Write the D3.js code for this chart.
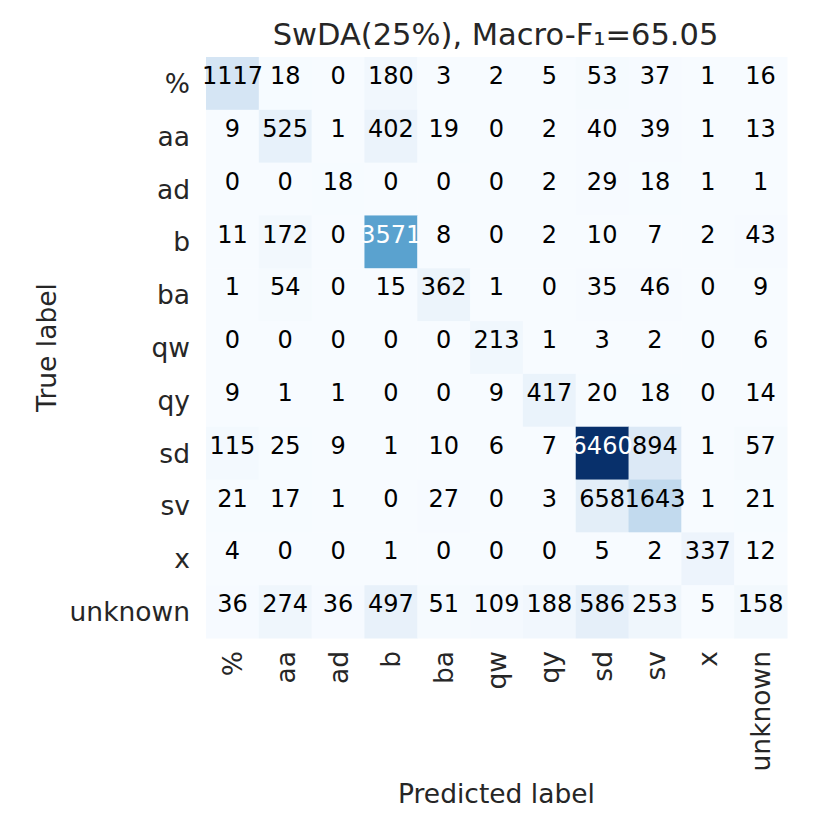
<!DOCTYPE html>
<html>
<head>
<meta charset="utf-8">
<script src="https://cdn.jsdelivr.net/npm/d3@7"></script>
<style>
  body { margin: 0; background: #fff; }
  text { font-family: 'DejaVu Sans', sans-serif; fill: #262626; }
</style>
</head>
<body>
<svg id="cm" width="830" height="830"></svg>
<script>
let labels = ['%', 'aa', 'ad', 'b', 'ba', 'qw', 'qy', 'sd', 'sv', 'x', 'unknown']

// rows = true label, columns = predicted label
let row_pct     = [1117, 18, 0, 180, 3, 2, 5, 53, 37, 1, 16]
let row_aa      = [9, 525, 1, 402, 19, 0, 2, 40, 39, 1, 13]
let row_ad      = [0, 0, 18, 0, 0, 0, 2, 29, 18, 1, 1]
let row_b       = [11, 172, 0, 3571, 8, 0, 2, 10, 7, 2, 43]
let row_ba      = [1, 54, 0, 15, 362, 1, 0, 35, 46, 0, 9]
let row_qw      = [0, 0, 0, 0, 0, 213, 1, 3, 2, 0, 6]
let row_qy      = [9, 1, 1, 0, 0, 9, 417, 20, 18, 0, 14]
let row_sd      = [115, 25, 9, 1, 10, 6, 7, 6460, 894, 1, 57]
let row_sv      = [21, 17, 1, 0, 27, 0, 3, 658, 1643, 1, 21]
let row_x       = [4, 0, 0, 1, 0, 0, 0, 5, 2, 337, 12]
let row_unknown = [36, 274, 36, 497, 51, 109, 188, 586, 253, 5, 158]

let matrix = [row_pct, row_aa, row_ad, row_b, row_ba, row_qw, row_qy, row_sd, row_sv, row_x, row_unknown]

let title = 'SwDA(25%), Macro-F\u2081=65.05'

let margin = ({ top: 57, right: 43, bottom: 192, left: 206 })
let width = 830 - margin.left - margin.right
let height = 830 - margin.top - margin.bottom

let svg = d3.select('#cm')
let g = svg.append('g').attr('transform', `translate(${margin.left},${margin.top})`)

let x = d3.scaleBand().domain(labels).range([0, width])
let y = d3.scaleBand().domain(labels).range([0, height])

let vmax = d3.max(matrix, r => d3.max(r))
let color = d3.scaleSequential(d3.interpolateBlues).domain([0, vmax])

// flatten to cells
let cells = []
matrix.forEach((r, i) => r.forEach((v, j) => cells.push({ t: labels[i], p: labels[j], v: v })))

function lum(c) {
	let rgb = d3.rgb(c)
	let f = ch => {
		ch = ch / 255
		return ch <= 0.03928 ? ch / 12.92 : Math.pow((ch + 0.055) / 1.055, 2.4)
	}
	return 0.2126 * f(rgb.r) + 0.7152 * f(rgb.g) + 0.0722 * f(rgb.b)
}

g.append('g')
	.selectAll('rect')
	.data(cells)
	.join('rect')
	.attr('x', d => x(d.p))
	.attr('y', d => y(d.t))
	.attr('width', x.bandwidth() + 0.5)
	.attr('height', y.bandwidth() + 0.5)
	.attr('fill', d => color(d.v))

// annotations sit a bit above the cell centre, like the original
g.append('g')
	.selectAll('text')
	.data(cells)
	.join('text')
	.attr('x', d => x(d.p) + x.bandwidth() / 2)
	.attr('y', d => y(d.t) + y.bandwidth() / 2)
	.attr('dy', '0.03em')
	.attr('text-anchor', 'middle')
	.style('font-size', '24px')
	.style('fill', d => lum(color(d.v)) < 0.408 ? '#fff' : '#000')
	.text(d => d.v)

// y tick labels
g.append('g')
	.selectAll('text')
	.data(labels)
	.join('text')
	.attr('x', -16)
	.attr('y', d => y(d) + y.bandwidth() / 2)
	.attr('dy', '0.36em')
	.attr('text-anchor', 'end')
	.style('font-size', '26.5px')
	.text(d => d)

// x tick labels, rotated
g.append('g')
	.selectAll('text')
	.data(labels)
	.join('text')
	.attr('transform', d => `translate(${x(d) + x.bandwidth() / 2},${height + 13}) rotate(-90)`)
	.attr('dy', '0.36em')
	.attr('text-anchor', 'end')
	.style('font-size', '26.5px')
	.text(d => d)

// axis titles
svg.append('text')
	.attr('x', margin.left + width / 2)
	.attr('y', 803)
	.attr('text-anchor', 'middle')
	.style('font-size', '26.5px')
	.text('Predicted label')

svg.append('text')
	.attr('transform', `translate(56,${margin.top + height / 2}) rotate(-90)`)
	.attr('text-anchor', 'middle')
	.style('font-size', '26.5px')
	.text('True label')

svg.append('text')
	.attr('x', margin.left + width / 2 - 1)
	.attr('y', 45)
	.attr('text-anchor', 'middle')
	.style('font-size', '30.5px')
	.text(title)
</script>
</body>
</html>
